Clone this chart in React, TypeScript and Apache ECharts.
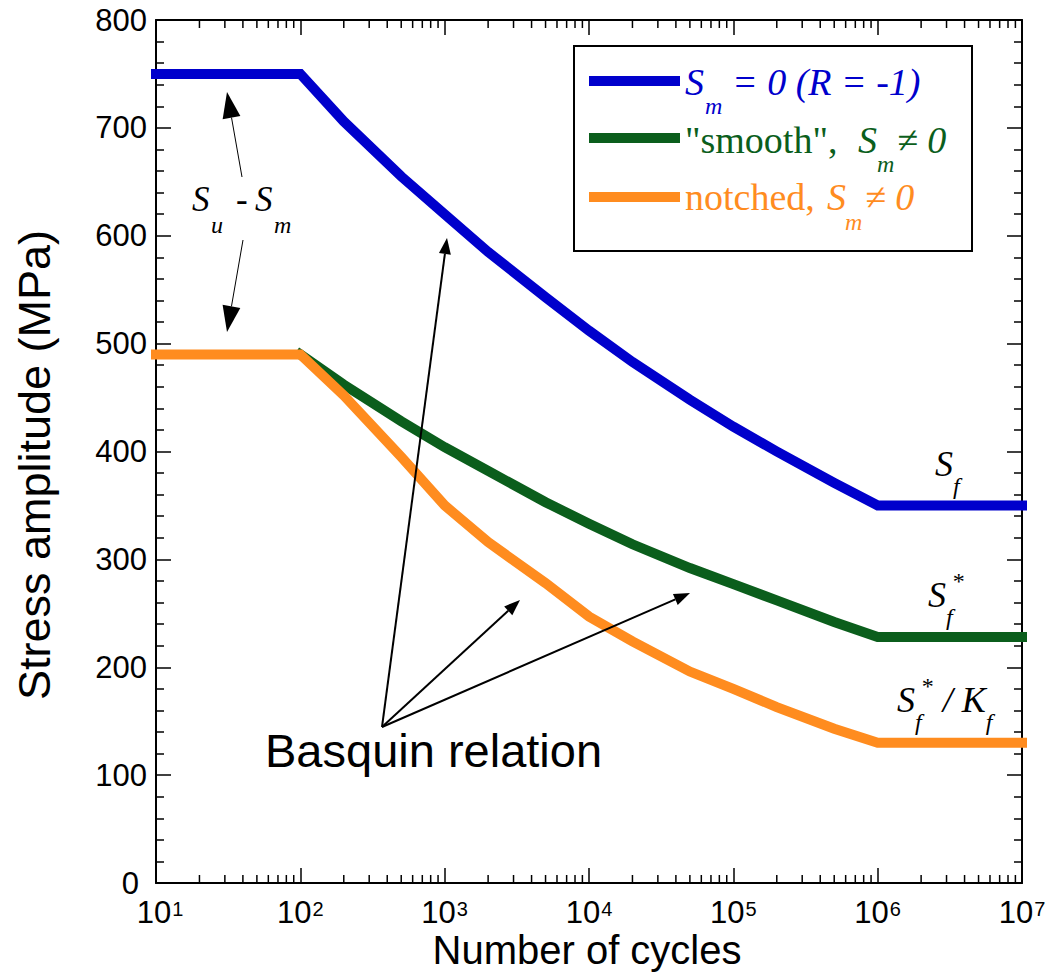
import React, { useEffect, useRef } from "react";
import * as echarts from "echarts";

// ---- data ----
const blueSeries: [number, number][] = [
  [10, 750], [100, 750], [200, 706], [500, 655], [1000, 620], [2000, 585], [5000, 543],
  [1e4, 512], [2e4, 483], [5e4, 448], [1e5, 423], [2e5, 400], [5e5, 371], [1e6, 350], [1e7, 350],
];
const greenSeries: [number, number][] = [
  [100, 490], [200, 462], [500, 428], [1000, 404], [2000, 382], [5000, 353], [1e4, 333],
  [2e4, 314], [5e4, 292], [1e5, 277], [2e5, 262], [5e5, 242], [1e6, 228], [1e7, 228],
];
const orangeSeries: [number, number][] = [
  [10, 490], [100, 490], [200, 452], [500, 395], [1000, 350], [2000, 316],
  [5000, 278], [1e4, 247], [2e4, 224], [5e4, 196], [1e5, 180], [2e5, 163], [5e5, 143],
  [1e6, 130], [1e7, 130],
];
const decades = [10, 100, 1000, 1e4, 1e5, 1e6];
const minorMultipliers = [2, 3, 4, 5, 6, 7, 8, 9];
const yTickLabels = [0, 100, 200, 300, 400, 500, 600, 700, 800];

const BLUE = "#0000cc";
const GREEN = "#0b5e1c";
const ORANGE = "#ff8c1f";
const SERIF = '"Liberation Serif", "Times New Roman", serif';
const SANS = '"Liberation Sans", Arial, Helvetica, sans-serif';

function txt(text: string, x: number, baseline: number, size: number, opts: any = {}) {
  return {
    type: "text",
    x,
    y: baseline - 0.34 * size,
    z: 100,
    style: {
      text,
      fontSize: size,
      fontFamily: opts.family || SERIF,
      fontStyle: opts.italic === false ? "normal" : "italic",
      fill: opts.color || "#000",
      align: opts.align || "left",
      verticalAlign: "middle",
    },
  };
}

// math label with sub/superscripts in a single rich text
function mlabel(x: number, baseline: number, F: number, f: number, tokens: [string, string][]) {
  const P0 = 16;
  const d = (22 * F) / 36;
  const u = (14 * F) / 36;
  const base = { fontFamily: SERIF, fill: "#000", verticalAlign: "top" };
  const rich = {
    M: { ...base, fontSize: F, lineHeight: F, fontStyle: "italic", padding: [P0, 0, 0, 0] },
    R: { ...base, fontSize: F, lineHeight: F, fontStyle: "normal", padding: [P0, 0, 0, 0] },
    sub: { ...base, fontSize: f, lineHeight: f, fontStyle: "italic", padding: [P0 + F / 2 + d - f / 2, 0, 0, 0] },
    sup: { ...base, fontSize: f, lineHeight: f, fontStyle: "normal", padding: [P0 + F / 2 - u - f / 2, 0, 0, 0] },
  };
  return {
    type: "text",
    x,
    y: baseline - 0.34 * F - P0 - F / 2,
    z: 100,
    style: {
      text: tokens.map(([s, t]) => `{${s}|${t}}`).join(""),
      rich,
      align: "left",
      verticalAlign: "top",
    },
  };
}

function arrow(x1: number, y1: number, x2: number, y2: number, hl: number, hw: number, lw: number) {
  const dx = x2 - x1, dy = y2 - y1;
  const L = Math.sqrt(dx * dx + dy * dy);
  const ux = dx / L, uy = dy / L;
  const bx = x2 - ux * hl, by = y2 - uy * hl;
  const px = -uy, py = ux;
  return [
    { type: "line", z: 100, shape: { x1, y1, x2: bx, y2: by }, style: { stroke: "#000", lineWidth: lw } },
    {
      type: "polygon", z: 100,
      shape: { points: [[x2, y2], [bx + px * hw / 2, by + py * hw / 2], [bx - px * hw / 2, by - py * hw / 2]] },
      style: { fill: "#000" },
    },
  ];
}

export default function App() {
  const ref = useRef<HTMLDivElement>(null);
  useEffect(() => {
    if (!ref.current) return;
    const chart = echarts.init(ref.current, null, { renderer: "svg" });
    const minorTicks: [number, number][] = [];
    decades.forEach((d) => minorMultipliers.forEach((m) => minorTicks.push([d * m, 0])));

    const axisLineStyle = { color: "#000", width: 2 };
    const tickStyle = { color: "#000", width: 1.5 };
    const xAxisBase = {
      type: "log",
      logBase: 10,
      min: 10,
      max: 1e7,
      splitNumber: 6,
      axisLine: { show: true, onZero: false, lineStyle: axisLineStyle },
      axisTick: { show: true, inside: true, length: 15, lineStyle: tickStyle },
      splitLine: { show: false },
      minorTick: { show: false },
    };
    const yAxisBase = {
      type: "value",
      min: 0,
      max: 800,
      interval: 100,
      axisLine: { show: true, onZero: false, lineStyle: axisLineStyle },
      axisTick: { show: true, inside: true, length: 15, lineStyle: tickStyle },
      minorTick: { show: true, splitNumber: 5, length: 8, lineStyle: tickStyle },
      splitLine: { show: false },
      minorSplitLine: { show: false },
    };

    const graphic: any[] = [
      // axis names
      {
        type: "text", x: 34, y: 465, rotation: Math.PI / 2, z: 100,
        style: { text: "Stress amplitude (MPa)", fontSize: 45, fontFamily: SANS, fill: "#000", align: "center", verticalAlign: "middle" },
      },
      {
        type: "text", x: 587, y: 950, z: 100,
        style: { text: "Number of cycles", fontSize: 40, lineHeight: 40, fontFamily: SANS, fill: "#000", align: "center", verticalAlign: "middle" },
      },
      // legend box
      { type: "rect", z: 90, shape: { x: 574, y: 46, width: 398, height: 205 }, style: { fill: "#fff", stroke: "#000", lineWidth: 2 } },
      { type: "line", z: 95, shape: { x1: 589, y1: 81, x2: 680, y2: 81 }, style: { stroke: BLUE, lineWidth: 10 } },
      { type: "line", z: 95, shape: { x1: 589, y1: 138, x2: 680, y2: 138 }, style: { stroke: GREEN, lineWidth: 10 } },
      { type: "line", z: 95, shape: { x1: 589, y1: 197, x2: 680, y2: 197 }, style: { stroke: ORANGE, lineWidth: 10 } },
      txt("S", 685, 95, 38, { color: BLUE }),
      txt("m", 705, 114, 24, { color: BLUE }),
      txt("= 0 (R = -1)", 732, 95, 38, { color: BLUE }),
      txt('"smooth",', 685, 153, 38, { color: GREEN, italic: false }),
      txt("S", 858, 153, 38, { color: GREEN }),
      txt("m", 877, 172, 24, { color: GREEN }),
      txt("\u2260 0", 897, 153, 38, { color: GREEN }),
      txt("notched,", 685, 210, 38, { color: ORANGE, italic: false }),
      txt("S", 827, 210, 38, { color: ORANGE }),
      txt("m", 845, 230, 24, { color: ORANGE }),
      txt("\u2260 0", 865, 210, 38, { color: ORANGE }),
      // Su - Sm
      txt("S", 192, 211, 35),
      txt("u", 211, 233, 24),
      txt("-", 236, 211, 35, { italic: false }),
      txt("S", 255, 211, 35),
      txt("m", 274, 233, 24),
      // Sf labels
      mlabel(935, 476, 36, 24, [["M", "S"], ["sub", "f"]]),
      mlabel(928, 607, 36, 24, [["M", "S"], ["sub", "f"], ["sup", "*"]]),
      mlabel(897, 712, 36, 24, [["M", "S"], ["sub", "f"], ["sup", "*"], ["M", " / K"], ["sub", "f"]]),
      // Basquin
      {
        type: "text", x: 265, y: 750, z: 100,
        style: { text: "Basquin relation", fontSize: 47, fontFamily: SANS, fill: "#000", align: "left", verticalAlign: "middle" },
      },
      ...arrow(382, 727, 447, 238, 16, 12, 2),
      ...arrow(382, 727, 520, 600, 16, 12, 2),
      ...arrow(382, 727, 690, 593, 16, 12, 2),
      ...arrow(242, 177, 227, 92, 26, 18, 1),
      ...arrow(243, 240, 227, 332, 26, 18, 1),
    ];

    chart.setOption({
      animation: false,
      backgroundColor: "#fff",
      grid: { left: 156, right: 23, top: 20, bottom: 93, outerBoundsMode: "none" },
      xAxis: [
        {
          ...xAxisBase,
          position: "bottom",
          axisLabel: {
            show: true,
            margin: 16,
            formatter: (v: number) => {
              const e = Math.round(Math.log10(v));
              return `{${e === 1 ? "b1" : "b"}|10}{s|${e}}`;
            },
            rich: {
              b: { fontSize: 31, fontFamily: SANS, color: "#000", lineHeight: 26 },
              b1: { fontSize: 31, fontFamily: SANS, color: "#000", lineHeight: 26, padding: [0, 0, 0, 8] },
              s: { fontSize: 20, fontFamily: SANS, color: "#000", lineHeight: 16, verticalAlign: "top", padding: [0, 0, 0, 1] },
            },
          },
        },
        { ...xAxisBase, position: "top", axisLabel: { show: false } },
      ],
      yAxis: [
        {
          ...yAxisBase,
          position: "left",
          axisLabel: {
            show: true, margin: 9, fontSize: 31, lineHeight: 18, fontFamily: SANS, color: "#000",
            formatter: (v: number) => (v === 0 ? "{z|0}" : yTickLabels.includes(v) ? String(v) : ""),
            rich: {
              z: { fontSize: 31, lineHeight: 18, fontFamily: SANS, color: "#000", padding: [0, 8, 0, 0] },
            },
          },
        },
        { ...yAxisBase, position: "right", axisLabel: { show: false } },
      ],
      series: [
        {
          type: "custom",
          silent: true,
          clip: false,
          xAxisIndex: 0,
          yAxisIndex: 0,
          data: minorTicks,
          encode: { x: 0, y: 1 },
          renderItem: (params: any, api: any) => {
            const v = api.value(0);
            const b = api.coord([v, 0]);
            const t = api.coord([v, 800]);
            return {
              type: "group",
              children: [
                { type: "line", shape: { x1: b[0], y1: b[1], x2: b[0], y2: b[1] - 8 }, style: { stroke: "#000", lineWidth: 1.5 } },
                { type: "line", shape: { x1: t[0], y1: t[1], x2: t[0], y2: t[1] + 8 }, style: { stroke: "#000", lineWidth: 1.5 } },
              ],
            };
          },
        },
        {
          name: "Sm = 0 (R = -1)", type: "line", data: blueSeries, symbol: "none", clip: false,
          lineStyle: { color: BLUE, width: 10, cap: "square", join: "miter" }, itemStyle: { color: BLUE },
        },
        {
          name: '"smooth", Sm ≠ 0', type: "line", data: greenSeries, symbol: "none", clip: false,
          lineStyle: { color: GREEN, width: 10, cap: "square", join: "miter" }, itemStyle: { color: GREEN },
        },
        {
          name: "notched, Sm ≠ 0", type: "line", data: orangeSeries, symbol: "none", clip: false,
          lineStyle: { color: ORANGE, width: 10, cap: "square", join: "miter" }, itemStyle: { color: ORANGE },
        },
      ],
      graphic,
    });
    return () => chart.dispose();
  }, []);
  return <div ref={ref} style={{ position: "absolute", left: 0, top: 0, width: 1045, height: 976 }} />;
}
